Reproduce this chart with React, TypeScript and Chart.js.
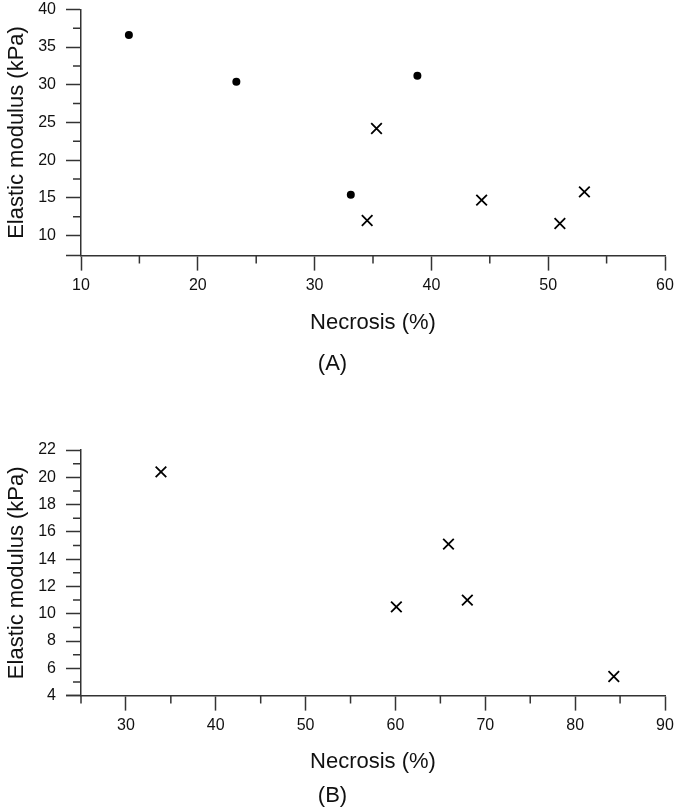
import React, { useEffect, useRef } from 'react';
import { Chart, registerables } from 'chart.js';

Chart.register(...registerables);

const FONT = "'Liberation Sans', Arial, Helvetica, sans-serif";
const AXIS = '#333333';
const TEXT = '#111111';

// ---------- Panel A data ----------
const aCircleX = [14.1, 23.3, 33.1, 38.8];
const aCircleY = [36.6, 30.4, 15.4, 31.2];
const aCrossX = [35.3, 34.5, 44.3, 51.0, 53.1];
const aCrossY = [24.2, 12.0, 14.7, 11.6, 15.8];
const aXTicks = [10, 20, 30, 40, 50, 60];
const aXMinor = [15, 25, 35, 45, 55];
const aYTicks = [10, 15, 20, 25, 30, 35, 40];
const aYMinor = [12.5, 17.5, 22.5, 27.5, 32.5, 37.5];
const aXRange = [10, 60];
const aYRange = [7.35, 40];

// ---------- Panel B data ----------
const bCrossX = [33.9, 60.1, 65.9, 68.0, 84.3];
const bCrossY = [20.4, 10.5, 15.1, 11.0, 5.4];
const bXTicks = [30, 40, 50, 60, 70, 80, 90];
const bXMinor = [25, 35, 45, 55, 65, 75, 85];
const bYTicks = [4, 6, 8, 10, 12, 14, 16, 18, 20, 22];
const bYMinor = [5, 7, 9, 11, 13, 15, 17, 19, 21];
const bXRange = [25, 90];
const bYRange = [4, 22];

const X_TITLE = 'Necrosis (%)';
const Y_TITLE = 'Elastic modulus (kPa)';

function toPoints(xs: number[], ys: number[]) {
  return xs.map((x, i) => ({ x, y: ys[i] }));
}

function minorPlugin(xMinor: number[], yMinor: number[]) {
  return {
    id: 'minorTicks',
    afterDraw(chart: any) {
      const { ctx, chartArea } = chart;
      const xs = chart.scales.x;
      const ys = chart.scales.y;
      ctx.save();
      ctx.strokeStyle = AXIS;
      ctx.lineWidth = 1.5;
      ctx.beginPath();
      xMinor.forEach((v) => {
        const px = xs.getPixelForValue(v);
        ctx.moveTo(px, chartArea.bottom);
        ctx.lineTo(px, chartArea.bottom + 8);
      });
      yMinor.forEach((v) => {
        const py = ys.getPixelForValue(v);
        ctx.moveTo(chartArea.left, py);
        ctx.lineTo(chartArea.left - 8, py);
      });
      ctx.moveTo(chartArea.left - 15, chartArea.bottom);
      ctx.lineTo(chartArea.left, chartArea.bottom);
      ctx.stroke();
      ctx.restore();
    },
  };
}

function axisCommon() {
  return {
    grid: {
      display: true,
      drawOnChartArea: false,
      drawTicks: true,
      tickLength: 15,
      tickColor: AXIS,
      tickWidth: 1.5,
    },
    border: { display: true, color: AXIS, width: 1.5 },
  };
}

function buildConfig(
  datasets: any[],
  xRange: number[],
  yRange: number[],
  xTicks: number[],
  yTicks: number[],
  xMinor: number[],
  yMinor: number[],
  label: string,
  padTop: number,
  padRight: number,
  xHeight: number,
  titlePad: { top: number; bottom: number }
) {
  return {
    type: 'scatter' as const,
    data: { datasets },
    options: {
      responsive: false,
      animation: false,
      events: [],
      layout: { padding: { top: padTop, right: padRight, left: 0, bottom: 0 } },
      plugins: {
        legend: { display: false },
        tooltip: { enabled: false },
        title: {
          display: true,
          position: 'bottom',
          text: label,
          color: TEXT,
          font: { family: FONT, size: 22, weight: 'normal' },
          padding: titlePad,
        },
      },
      scales: {
        x: {
          type: 'linear',
          position: 'bottom',
          min: xRange[0],
          max: xRange[1],
          afterBuildTicks: (s: any) => {
            s.ticks = xTicks.map((v) => ({ value: v }));
          },
          afterFit: (s: any) => {
            s.height = xHeight;
            s.paddingLeft = 0;
            s.paddingRight = 0;
          },
          ...axisCommon(),
          ticks: {
            autoSkip: false,
            maxRotation: 0,
            padding: 5,
            color: TEXT,
            font: { family: FONT, size: 16 },
            callback: (v: any) => String(v),
          },
          title: {
            display: true,
            text: X_TITLE,
            color: TEXT,
            font: { family: FONT, size: 22 },
            padding: { top: 0, bottom: 0 },
          },
        },
        y: {
          type: 'linear',
          position: 'left',
          min: yRange[0],
          max: yRange[1],
          afterBuildTicks: (s: any) => {
            s.ticks = yTicks.map((v) => ({ value: v }));
          },
          afterFit: (s: any) => {
            s.width = 81;
            s.paddingTop = 0;
            s.paddingBottom = 0;
          },
          ...axisCommon(),
          ticks: {
            autoSkip: false,
            padding: 10,
            color: TEXT,
            font: { family: FONT, size: 16 },
            callback: (v: any) => String(v),
          },
          title: {
            display: true,
            text: Y_TITLE,
            color: TEXT,
            font: { family: FONT, size: 22 },
            padding: { top: 4, bottom: 0 },
          },
        },
      },
    },
    plugins: [minorPlugin(xMinor, yMinor)],
  };
}

function circleSet(xs: number[], ys: number[]) {
  return {
    data: toPoints(xs, ys),
    pointStyle: 'circle',
    pointRadius: 4,
    backgroundColor: '#000',
    borderColor: '#000',
    borderWidth: 0,
    showLine: false,
  };
}

function crossSet(xs: number[], ys: number[]) {
  return {
    data: toPoints(xs, ys),
    pointStyle: 'crossRot',
    pointRadius: 7.5,
    backgroundColor: '#000',
    borderColor: '#000',
    borderWidth: 1.8,
    showLine: false,
  };
}

export default function App() {
  const refA = useRef<HTMLCanvasElement | null>(null);
  const refB = useRef<HTMLCanvasElement | null>(null);

  useEffect(() => {
    const chartA = new Chart(
      refA.current as HTMLCanvasElement,
      buildConfig(
        [circleSet(aCircleX, aCircleY), crossSet(aCrossX, aCrossY)],
        aXRange, aYRange, aXTicks, aYTicks, aXMinor, aYMinor,
        '(A)', 9, 10, 81, { top: 14, bottom: 13 }
      ) as any
    );
    const chartB = new Chart(
      refB.current as HTMLCanvasElement,
      buildConfig(
        [crossSet(bCrossX, bCrossY)],
        bXRange, bYRange, bXTicks, bYTicks, bXMinor, bYMinor,
        '(B)', 30, 10, 80, { top: 7, bottom: 1 }
      ) as any
    );
    return () => {
      chartA.destroy();
      chartB.destroy();
    };
  }, []);

  return (
    <div style={{ position: 'absolute', left: 0, top: 0, width: 675, height: 810, background: '#fff' }}>
      <canvas ref={refA} width={675} height={390} style={{ position: 'absolute', left: 0, top: 0, display: 'block' }} />
      <canvas ref={refB} width={675} height={390} style={{ position: 'absolute', left: 0, top: 420, display: 'block' }} />
    </div>
  );
}
